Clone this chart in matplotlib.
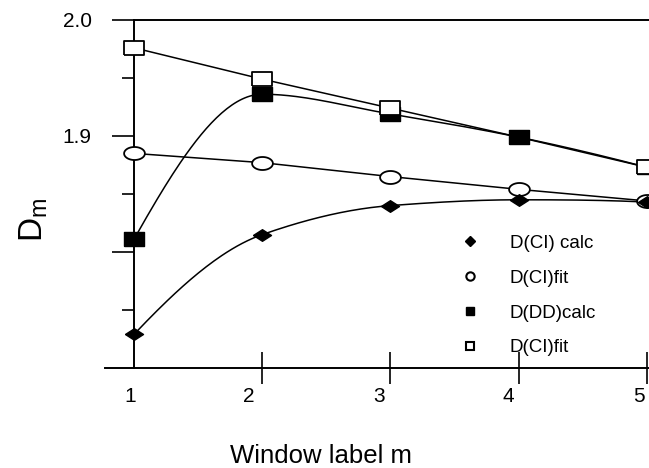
import numpy as np
import matplotlib
matplotlib.use("Agg")
import matplotlib.pyplot as plt
import matplotlib.transforms as mtransforms
from matplotlib.lines import Line2D
from matplotlib.ticker import FixedLocator

plt.rcParams['font.family'] = ['Liberation Sans', 'DejaVu Sans']

# window label m
m = [1, 2, 3, 4, 5]

# values
ci_calc = [1.729, 1.815, 1.840, 1.845, 1.843]     # filled diamonds
ci_fit = [1.885, 1.877, 1.865, 1.854, 1.844]      # open circles
dd_calc = [1.811, 1.936, 1.919, 1.899, 1.873]     # filled squares
ci_fit2 = [1.976, 1.949, 1.924, 1.899, 1.873]     # open squares

legend_labels = ['D(CI) calc', 'D(CI)fit', 'D(DD)calc', 'D(CI)fit']


def pchip(x, y, xs):
    """Monotone cubic (Fritsch-Carlson) curve through (x, y), evaluated at xs."""
    x = np.asarray(x, float)
    y = np.asarray(y, float)
    h = np.diff(x)
    delta = np.diff(y) / h
    n = len(x)
    d = np.zeros(n)
    for k in range(1, n - 1):
        if delta[k - 1] * delta[k] > 0:
            w1 = 2 * h[k] + h[k - 1]
            w2 = h[k] + 2 * h[k - 1]
            d[k] = (w1 + w2) / (w1 / delta[k - 1] + w2 / delta[k])
    # end slopes
    for k, (h0, h1, d0, d1) in ((0, (h[0], h[1], delta[0], delta[1])),
                               (n - 1, (h[-1], h[-2], delta[-1], delta[-2]))):
        s = ((2 * h0 + h1) * d0 - h0 * d1) / (h0 + h1)
        if np.sign(s) != np.sign(d0):
            s = 0.0
        elif np.sign(d0) != np.sign(d1) and abs(s) > abs(3 * d0):
            s = 3 * d0
        d[k] = s
    idx = np.clip(np.searchsorted(x, xs) - 1, 0, n - 2)
    t = (xs - x[idx]) / h[idx]
    h00 = 2 * t**3 - 3 * t**2 + 1
    h10 = t**3 - 2 * t**2 + t
    h01 = -2 * t**3 + 3 * t**2
    h11 = t**3 - t**2
    return (h00 * y[idx] + h10 * h[idx] * d[idx]
            + h01 * y[idx + 1] + h11 * h[idx] * d[idx + 1])


# wide marker shapes, like the scanned original
rect = [(-1.35, -1), (1.35, -1), (1.35, 1), (-1.35, 1), (-1.35, -1)]
theta = np.linspace(0, 2 * np.pi, 40)
ellipse = list(zip(1.6 * np.cos(theta), np.sin(theta)))
diamond = [(-1.4, 0), (0, 0.9), (1.4, 0), (0, -0.9), (-1.4, 0)]

fig = plt.figure(figsize=(6.49, 4.68), dpi=100)
ax = fig.add_axes([0.2065, 0.2137, 0.7935, 0.7436])

xs = np.linspace(1, 5, 200)
lw = 1.1
ax.plot(xs, pchip(m, ci_calc, xs), color='black', lw=lw)
ax.plot(xs, pchip(m, dd_calc, xs), color='black', lw=lw)
ax.plot(m, ci_fit, color='black', lw=lw)
ax.plot(m, ci_fit2, color='black', lw=lw)

ax.plot(m, dd_calc, linestyle='none', marker=rect, ms=14, mfc='black',
        mec='black', clip_on=False, zorder=3)
ax.plot(m, ci_fit2, linestyle='none', marker=rect, ms=14, mfc='white',
        mec='black', mew=1.3, clip_on=False, zorder=4, markevery=[0, 1, 2, 4])
ax.plot(m, ci_fit, linestyle='none', marker=ellipse, ms=15, mfc='white',
        mec='black', mew=1.3, clip_on=False, zorder=3)
ax.plot(m, ci_calc, linestyle='none', marker=diamond, ms=13, mfc='black',
        mec='black', clip_on=False, zorder=4)

ax.set_xlim(1, 5.016)
ax.set_ylim(1.70, 2.0)

# axes frame: left, bottom, top; bottom runs a bit past the y axis
for s in ['left', 'bottom', 'top']:
    ax.spines[s].set_linewidth(1.4)
ax.spines['right'].set_visible(False)
ax.spines['bottom'].set_bounds(0.77, 5.016)

ax.yaxis.set_major_locator(FixedLocator([1.8, 1.9, 2.0]))
ax.yaxis.set_minor_locator(FixedLocator([1.75, 1.85, 1.95]))
ax.set_yticklabels(['', '1.9', '2.0'])
ax.tick_params(axis='y', which='major', direction='out', length=16, width=1.2,
               labelsize=15, pad=14.5)
ax.tick_params(axis='y', which='minor', direction='out', length=9, width=1.2)

ax.xaxis.set_major_locator(FixedLocator(m))
ax.set_xticklabels([str(v) for v in m])
ax.tick_params(axis='x', direction='inout', length=23, width=1.2,
               labelsize=15, pad=2)
ax.xaxis.get_major_ticks()[0].tick1line.set_visible(False)
# the scanned labels sit a little left of their ticks
for lab, dx in zip(ax.get_xticklabels(), [-4, -14, -11, -10, -8]):
    lab.set_transform(lab.get_transform()
                      + mtransforms.ScaledTranslation(dx / 100, 0, fig.dpi_scale_trans))

ax.set_xlabel('Window label m', fontsize=18.5)
ax.xaxis.set_label_coords(0.363, -0.218)
ax.set_ylabel(r'$\mathregular{D_m}$', fontsize=24)
ax.yaxis.set_label_coords(-0.163, 0.425)

handles = [
    Line2D([], [], linestyle='none', marker='D', ms=5, mfc='black', mec='black'),
    Line2D([], [], linestyle='none', marker='o', ms=6, mfc='white', mec='black', mew=1.5),
    Line2D([], [], linestyle='none', marker='s', ms=6, mfc='black', mec='black'),
    Line2D([], [], linestyle='none', marker='s', ms=6, mfc='white', mec='black', mew=1.5),
]
ax.legend(handles, legend_labels, loc='upper left', bbox_to_anchor=(0.62, 0.405),
          frameon=False, fontsize=13.5, handlelength=1.0, handletextpad=1.6,
          labelspacing=0.95, borderaxespad=0)

fig.savefig('out.png', dpi=100)
